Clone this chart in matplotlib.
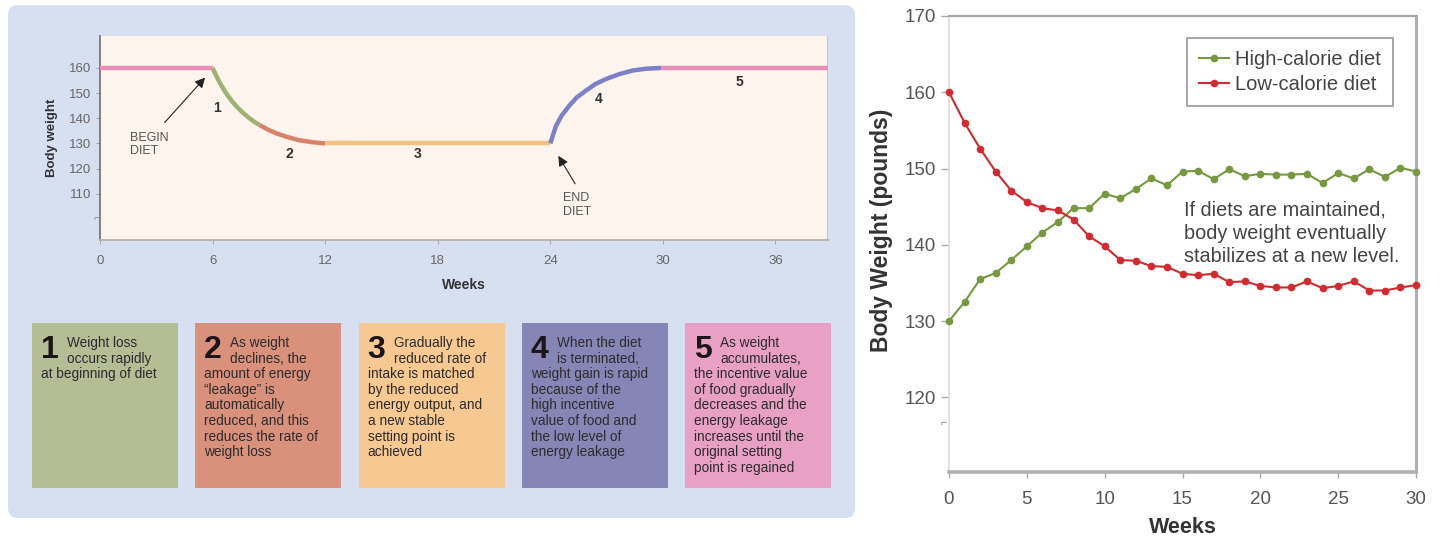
import numpy as np
import matplotlib as mpl
import matplotlib.pyplot as plt
from matplotlib.patches import FancyBboxPatch, Rectangle
mpl.use('agg')

plt.rcParams['font.family'] = ['Liberation Sans', 'DejaVu Sans']

##--##--  left panel: set-point curve  --##--##
phase_weeks = [
    [0, 6.0],
    [6.0, 6.2, 6.4, 6.7, 7.0, 7.3, 7.6, 7.9, 8.2, 8.5],
    [8.5, 9.0, 9.4, 10.0, 10.6, 11.3, 12.0],
    [12.0, 24.0],
    [24.0, 24.15, 24.3, 24.6, 25.0, 25.4, 25.9, 26.4, 27.0, 27.7, 28.4, 29.1, 29.9],
    [29.9, 38.8],
]
phase_weight = [
    [160, 160],
    [160, 156.8, 153.9, 150.2, 147.1, 144.5, 142.3, 140.4, 138.7, 137.3],
    [137.3, 135.3, 134.0, 132.5, 131.3, 130.5, 130],
    [130, 130],
    [130, 133.5, 136.9, 141, 144.9, 148.2, 151, 153.6, 155.7, 157.6, 159, 159.7, 160],
    [160, 160],
]
phase_colors = ['#e68fbb', '#9db274', '#d9826b', '#f4c27e', '#7c80c4', '#e68fbb']
phase_numbers = ['1', '2', '3', '4', '5']
phase_num_pos = [(6.25, 144), (10.1, 125.6), (16.9, 125.6), (26.6, 147.6), (34.1, 154.4)]
left_xticks = [0, 6, 12, 18, 24, 30, 36]
left_yticks = [110, 120, 130, 140, 150, 160]

##--##--  explanation boxes  --##--##
box_colors = ['#b5bd95', '#d9917b', '#f5c991', '#8586b6', '#e8a1c5']
box_texts = [
    ["Weight loss", "occurs rapidly", "at beginning of diet"],
    ["As weight", "declines, the", "amount of energy", "\u201cleakage\u201d is",
     "automatically", "reduced, and this", "reduces the rate of", "weight loss"],
    ["Gradually the", "reduced rate of", "intake is matched", "by the reduced",
     "energy output, and", "a new stable", "setting point is", "achieved"],
    ["When the diet", "is terminated,", "weight gain is rapid", "because of the",
     "high incentive", "value of food and", "the low level of", "energy leakage"],
    ["As weight", "accumulates,", "the incentive value", "of food gradually",
     "decreases and the", "energy leakage", "increases until the", "original setting",
     "point is regained"],
]

##--##--  right panel: weekly body weight  --##--##
weeks = list(range(31))
high_cal = [130.0, 132.5, 135.5, 136.3, 138.0, 139.8, 141.6, 143.0, 144.8, 144.8,
            146.7, 146.1, 147.3, 148.7, 147.8, 149.6, 149.7, 148.6, 149.9, 149.0,
            149.3, 149.2, 149.2, 149.3, 148.1, 149.4, 148.7, 149.9, 148.9, 150.1, 149.6]
low_cal = [160.0, 156.0, 152.6, 149.6, 147.1, 145.6, 144.8, 144.5, 143.3, 141.1,
           139.8, 138.0, 137.9, 137.2, 137.1, 136.2, 136.0, 136.2, 135.1, 135.2,
           134.6, 134.4, 134.4, 135.2, 134.3, 134.6, 135.2, 134.0, 134.0, 134.4, 134.7]
right_xticks = [0, 5, 10, 15, 20, 25, 30]
right_yticks = [120, 130, 140, 150, 160, 170]


W, H = 1440, 550
def px(x0, y0, w, h):
    return [x0 / W, 1 - (y0 + h) / H, w / W, h / H]


##--##--##--  create figure  --##--##--##
fig = plt.figure(figsize=(14.4, 5.5), dpi=100)

# pixel canvas for the background panel and boxes
cv = fig.add_axes([0, 0, 1, 1], zorder=0)
cv.set_xlim(0, W); cv.set_ylim(H, 0); cv.axis('off')
cv.add_patch(FancyBboxPatch((8, 5), 847, 513, boxstyle='round,pad=0,rounding_size=10',
                            facecolor='#d6e0f1', edgecolor='none'))

bx0, bw, by0, bh = 32, 146, 323, 165
for i in range(5):
    bx = bx0 + i * 163.3
    cv.add_patch(Rectangle((bx, by0), bw, bh, facecolor=box_colors[i], edgecolor='none'))
    cv.text(bx + 9, 350, phase_numbers[i], fontsize=23, fontweight='bold', color='#1b1418',
            ha='left', va='center')
    for j, line in enumerate(box_texts[i]):
        x = bx + 35 if j < 2 else bx + 9
        cv.text(x, 343 + j * 15.6, line, fontsize=9.8, color='#2e2a2e', ha='left', va='center')

# left chart
ax1 = fig.add_axes(px(100, 36, 728, 204), zorder=1)
ax1.set_facecolor('#fdf4ee')
ax1.set_xlim(0, 38.8)
ax1.set_ylim(91.6, 172.7)
for k in range(len(phase_weeks)):
    ax1.plot(phase_weeks[k], phase_weight[k], color=phase_colors[k], linewidth=3.2,
             solid_capstyle='butt', solid_joinstyle='round', zorder=3)
for k in range(5):
    ax1.text(phase_num_pos[k][0], phase_num_pos[k][1], phase_numbers[k], fontsize=10,
             fontweight='bold', color='#333333', ha='center', va='center')
ax1.set_xticks(left_xticks)
ax1.set_yticks(left_yticks)
ax1.tick_params(axis='both', length=3, width=0.6, color='#999999', labelsize=9.5,
                labelcolor='#666666')
ax1.tick_params(axis='x', pad=8)
for s in ['top', 'right']:
    ax1.spines[s].set_visible(False)
ax1.spines['left'].set_color('#777777'); ax1.spines['left'].set_linewidth(1.3)
ax1.spines['bottom'].set_color('#b5b0ab'); ax1.spines['bottom'].set_linewidth(1.3)
ax1.axvline(38.8, color='#c9c4c4', linewidth=1.5)
ax1.set_ylabel('Body weight', fontsize=9.5, fontweight='bold', color='#333333', labelpad=8)
ax1.set_xlabel('Weeks', fontsize=10, fontweight='bold', color='#333333', labelpad=8)
ax1.text(-0.2, 100.5, '\u2310', fontsize=7, color='#888888', ha='center', va='center')

ax1.annotate('', xy=(5.7, 157), xytext=(3.35, 137.5),
             arrowprops=dict(arrowstyle='-|>,head_length=0.6,head_width=0.3', color='#222222', lw=0.8))
ax1.text(1.6, 129.5, 'BEGIN\nDIET', fontsize=9, color='#555555', ha='left', va='center',
         linespacing=1.15)
ax1.annotate('', xy=(24.35, 126), xytext=(25.4, 113),
             arrowprops=dict(arrowstyle='-|>,head_length=0.6,head_width=0.3', color='#222222', lw=0.8))
ax1.text(24.7, 105.5, 'END\nDIET', fontsize=9, color='#555555', ha='left', va='center',
         linespacing=1.15)

# right chart
ax2 = fig.add_axes(px(949, 16, 467, 456), zorder=1)
ax2.set_xlim(0, 30)
ax2.set_ylim(110.2, 170)
ax2.plot(weeks, high_cal, color='#77983f', marker='o', markersize=4.5, linewidth=1.5,
         label='High-calorie diet', clip_on=False, zorder=3)
ax2.plot(weeks, low_cal, color='#d22a30', marker='o', markersize=4.5, linewidth=1.5,
         label='Low-calorie diet', clip_on=False, zorder=3)
ax2.set_xticks(right_xticks)
ax2.set_yticks(right_yticks)
ax2.tick_params(axis='both', length=6, width=1.0, color='#aaaaaa', labelsize=13.5,
                labelcolor='#555555')
ax2.tick_params(axis='x', length=4, pad=10)
ax2.spines['left'].set_color('#dddddd'); ax2.spines['left'].set_linewidth(1.2)
ax2.spines['top'].set_color('#a8a8a8'); ax2.spines['top'].set_linewidth(1.6)
ax2.spines['right'].set_color('#b0b0b0'); ax2.spines['right'].set_linewidth(2.2)
ax2.spines['bottom'].set_color('#b0b0b0'); ax2.spines['bottom'].set_linewidth(2.6)
ax2.set_xlabel('Weeks', fontsize=15.5, fontweight='bold', color='#333333', labelpad=6)
ax2.set_ylabel('Body Weight (pounds)', fontsize=16.5, fontweight='bold', color='#333333')
ax2.yaxis.set_label_coords(-0.12, 0.53)
ax2.text(-0.35, 116.7, '\u2310', fontsize=8, color='#888888', ha='center', va='center')
leg = ax2.legend(loc='upper right', bbox_to_anchor=(0.951, 0.952), borderaxespad=0,
                 fontsize=14.5, frameon=True, fancybox=False, handlelength=1.5,
                 handletextpad=0.3, borderpad=0.6, labelspacing=0.3)
leg.get_frame().set_edgecolor('#888888')
leg.get_frame().set_linewidth(1.3)
for t in leg.get_texts():
    t.set_color('#444444')
ax2.text(15.1, 141.5, 'If diets are maintained,\nbody weight eventually\nstabilizes at a new level.',
         fontsize=14.3, color='#444444', ha='left', va='center', linespacing=1.3)

fig.savefig('out.png', dpi=100)
